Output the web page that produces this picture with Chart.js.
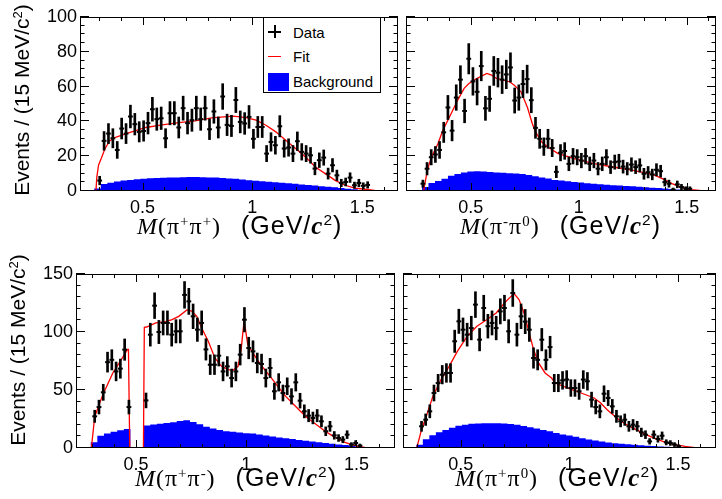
<!DOCTYPE html>
<html>
<head>
<meta charset="utf-8">
<title>Invariant mass fits</title>
<script src="https://cdn.jsdelivr.net/npm/chart.js@4.4.1/dist/chart.umd.min.js"></script>
<style>
  body { margin: 0; background: #fff; }
  #page { position: relative; width: 722px; height: 499px; overflow: hidden; background: #fff; }
  canvas { position: absolute; }
  .xt { position: absolute; font: 24px "Liberation Sans", Arial, sans-serif; line-height: 24px; white-space: nowrap; color: #000; }
  .xt .s { font-family: "Liberation Serif", "Times New Roman", serif; letter-spacing: 1px; }
  .xt .u { font-size: 25px; letter-spacing: 1px; margin-left: 20px; }
  .xt sup, .yt sup { font-size: 62%; vertical-align: 0; position: relative; top: -0.55em; }
  .yt { position: absolute; font: 21px "Liberation Sans", Arial, sans-serif; line-height: 21px; white-space: nowrap; color: #000;
        transform: translate(-50%, -50%) rotate(-90deg); }
  #legend { position: absolute; left: 263px; top: 17px; width: 118px; height: 76px; box-sizing: border-box;
            border: 1px solid #000; background: #fff; }
  #legend .mk { position: absolute; display: block; }
  #legend .lt { position: absolute; left: 29px; transform: translateY(-50%); font: 15px "Liberation Sans", Arial, sans-serif; line-height: 15px; }
</style>
</head>
<body>
<div id="page">
  <canvas id="tl" width="404" height="250" style="left:0;top:0"></canvas>
  <canvas id="tr" width="322" height="250" style="left:400px;top:0"></canvas>
  <canvas id="bl" width="401" height="249" style="left:0;top:250px"></canvas>
  <canvas id="br" width="325" height="249" style="left:397px;top:250px"></canvas>

  <div class="yt" style="left:23px;top:100px">Events / (15 MeV/c<sup>2</sup>)</div>
  <div class="yt" style="left:19px;top:350px">Events / (15 MeV/c<sup>2</sup>)</div>

  <div class="xt" style="left:137px;top:213px"><span class="s"><i>M</i>(π<sup>+</sup>π<sup>+</sup>)</span><span class="u">(GeV/<b class="s"><i>c</i></b><sup>2</sup>)</span></div>
  <div class="xt" style="left:460px;top:213px"><span class="s"><i>M</i>(π<sup>-</sup>π<sup>0</sup>)</span><span class="u">(GeV/<b class="s"><i>c</i></b><sup>2</sup>)</span></div>
  <div class="xt" style="left:135px;top:465px"><span class="s"><i>M</i>(π<sup>+</sup>π<sup>-</sup>)</span><span class="u">(GeV/<b class="s"><i>c</i></b><sup>2</sup>)</span></div>
  <div class="xt" style="left:455px;top:465px"><span class="s"><i>M</i>(π<sup>+</sup>π<sup>0</sup>)</span><span class="u">(GeV/<b class="s"><i>c</i></b><sup>2</sup>)</span></div>

  <div id="legend">
    <span class="mk" style="left:4px;top:12.5px;width:13px;height:2px;background:#000"></span>
    <span class="mk" style="left:9.5px;top:7px;width:2px;height:13px;background:#000"></span>
    <span class="lt" style="top:13.7px">Data</span>
    <span class="mk" style="left:4px;top:37.5px;width:13px;height:1.3px;background:#f00"></span>
    <span class="lt" style="top:38px">Fit</span>
    <span class="mk" style="left:4px;top:55px;width:21px;height:18px;background:#00f"></span>
    <span class="lt" style="top:63px">Background</span>
  </div>
</div>

<script>
  // Axis ticks
  const xTicks = [0.5, 1, 1.5];
  const xMinor = [0.3, 0.4, 0.6, 0.7, 0.8, 0.9, 1.1, 1.2, 1.3, 1.4, 1.6];
  const topYTicks = [0, 20, 40, 60, 80, 100];
  const topYMinor = [5, 10, 15, 25, 30, 35, 45, 50, 55, 65, 70, 75, 85, 90, 95];
  const botYTicks = [0, 50, 100, 150];
  const botYMinor = [10, 20, 30, 40, 60, 70, 80, 90, 110, 120, 130, 140];

  // M(pi+ pi+) : data counts per bin, first bin centre and bin width
  const tlStart = 0.305, tlStep = 0.02;
  const tlCounts = [6, 28.8, 33, 30.3, 23.6, 35.9, 33, 42.8, 38.4, 34, 34.5, 39, 47, 41.3, 41.8, 30.3,
    44.7, 44.7, 36.5, 47.6, 39, 40.7, 47.6, 41.3, 47.6, 35.5, 45.7, 36.5, 54.3, 38, 37.4, 52.3,
    39.7, 38.8, 42.6, 30, 36.8, 36.8, 21.5, 28.2, 26.3, 37.2, 24.4, 25, 21.5, 28.6, 22.5, 21.5,
    20.5, 12.9, 17.7, 19.2, 10, 14.8, 9, 4.6, 5.2, 7.7, 3.3, 4.6, 3, 3.5];
  const tlFit = [[0.25, 0], [0.288, 0], [0.292, 8], [0.3, 15], [0.313, 19], [0.328, 24], [0.35, 28.8],
    [0.38, 31], [0.44, 33.6], [0.515, 36.5], [0.59, 38], [0.665, 39.3], [0.74, 40.3], [0.815, 42],
    [0.912, 43], [0.972, 42.2], [1.017, 40.7], [1.062, 37.8], [1.107, 34], [1.152, 29.2], [1.197, 24.4],
    [1.242, 19.6], [1.287, 13.8], [1.332, 10], [1.377, 6.1], [1.422, 3.3], [1.467, 1.7], [1.512, 1],
    [1.557, 0.4], [1.6, 0], [1.67, 0]];
  const tlBg = [[0.265, 0], [0.295, 1.5], [0.325, 4], [0.355, 4.8], [0.385, 5.5], [0.415, 6], [0.445, 6.3],
    [0.475, 6.7], [0.505, 7], [0.535, 7.3], [0.565, 7.5], [0.595, 7.6], [0.625, 7.7], [0.655, 7.8],
    [0.685, 7.9], [0.715, 8], [0.745, 8], [0.775, 7.9], [0.805, 7.8], [0.835, 7.7], [0.865, 7.5],
    [0.895, 7.2], [0.925, 7], [0.955, 6.6], [0.985, 6.2], [1.015, 5.9], [1.045, 5.6], [1.075, 5.3],
    [1.105, 5], [1.135, 4.7], [1.165, 4.4], [1.195, 4.1], [1.225, 3.8], [1.255, 3.5], [1.285, 3.1],
    [1.315, 2.8], [1.345, 2.5], [1.375, 2.1], [1.405, 1.7], [1.435, 1.3], [1.465, 1], [1.495, 0.6],
    [1.525, 0.4], [1.555, 0]];

  // M(pi- pi0)
  const trStart = 0.279, trStep = 0.0193;
  const trCounts = [4.2, 12.8, 19.4, 21, 23.6, 33.7, 48, 34.7, 53.7, 64, 46, 76, 63, 57, 71.8, 47.5,
    53, 69, 68, 64, 67, 71, 52, 53.7, 61.5, 64.3, 52.2, 36.3, 30, 25.5, 30, 24.7, 11, 22, 23, 15.6,
    20, 19.4, 17.5, 20, 15.6, 17.5, 12.8, 15.6, 19.4, 13.7, 16.6, 17, 14, 12.8, 15.2, 13.7, 14.7,
    9.9, 10.8, 9.5, 12.2, 11.4, 5.1, 4.2, 0.8, 3.8, 2.3, 1.3, 1.3];
  const trFit = [[0.25, 0], [0.282, 0], [0.297, 10], [0.304, 13.8], [0.319, 19.6], [0.349, 27.3],
    [0.372, 35], [0.41, 44.5], [0.44, 52.2], [0.47, 59], [0.492, 61.8], [0.53, 64.7], [0.575, 67.6],
    [0.597, 66.6], [0.62, 64.7], [0.65, 63.7], [0.68, 62.8], [0.702, 60.8], [0.733, 57], [0.763, 48],
    [0.785, 38.8], [0.8, 34], [0.83, 28], [0.86, 25], [0.905, 21.5], [0.98, 18.6], [1.07, 15.7],
    [1.16, 13.8], [1.252, 11.9], [1.342, 9.6], [1.387, 7.1], [1.432, 4.2], [1.477, 1.9], [1.522, 0.8],
    [1.567, 0.2], [1.61, 0], [1.64, 0]];
  const trBg = [[0.26, 0], [0.29, 2.3], [0.32, 4.6], [0.35, 5.8], [0.38, 7], [0.41, 8.8], [0.44, 9.8],
    [0.47, 10.6], [0.5, 11.2], [0.53, 11.4], [0.56, 11.2], [0.59, 10.9], [0.62, 10.7], [0.65, 10.5],
    [0.68, 10.2], [0.71, 10], [0.74, 9.7], [0.77, 9.2], [0.8, 8.5], [0.83, 7.8], [0.86, 7.2], [0.89, 6.3],
    [0.92, 6], [0.95, 5.6], [0.98, 5.2], [1.01, 4.9], [1.04, 4.5], [1.07, 4.2], [1.1, 3.9], [1.13, 3.6],
    [1.16, 3.3], [1.19, 3.1], [1.22, 2.9], [1.25, 2.7], [1.28, 2.4], [1.31, 2.2], [1.34, 1.9],
    [1.37, 1.7], [1.4, 1.5], [1.43, 1.2], [1.46, 0.8], [1.49, 0.4], [1.52, 0]];

  // M(pi+ pi-) with the K0S window removed
  const blStart = 0.313, blStep = 0.0194;
  const blCounts = [27.3, 35.3, 48, 74, 76, 66, 68.4, 84.8, 35.3, null, null, null, 41, 97.7, 122.7,
    100, 107.8, 107.8, 97.7, 100.6, 100.6, 132, 126.4, 113.5, 102, 107.8, 85, 71.8, 71.8, 79.6, 66,
    70.4, 60.3, 66, 80.5, 110.6, 86.2, 83.3, 73.3, 72.4, 60.3, 69, 48.9, 56.6, 47.4, 53.2, 44.5, 56.6,
    40.8, 31.6, 27.9, 25.9, 27.9, 23, 14.4, 18.7, 10.9, 8.6, 7.2, 11.5, 2.9, 4.3, 2];
  const blFit = [[0.25, 0], [0.298, 0], [0.313, 27], [0.35, 46], [0.395, 64.7], [0.433, 76], [0.462, 85],
    [0.466, 85], [0.472, 0], [0.534, 0], [0.538, 104], [0.548, 104.3], [0.59, 107.8], [0.634, 109],
    [0.664, 110.6], [0.694, 113.5], [0.731, 119], [0.753, 118], [0.776, 113.5], [0.798, 103.4],
    [0.828, 92], [0.858, 77.6], [0.888, 70.4], [0.918, 67.5], [0.94, 67], [0.963, 70.4], [0.977, 84.8],
    [0.99, 109], [0.997, 102], [1.007, 89], [1.03, 82], [1.06, 73.3], [1.09, 66], [1.12, 59],
    [1.149, 51.7], [1.179, 44.5], [1.209, 38.8], [1.239, 33], [1.269, 27.3], [1.298, 23], [1.328, 18.7],
    [1.358, 14.4], [1.388, 10.9], [1.418, 7.8], [1.448, 4.9], [1.478, 2.9], [1.508, 1.4], [1.537, 0.6],
    [1.582, 0], [1.68, 0]];
  const blBg = [[0.28, 0], [0.31, 5], [0.34, 10.5], [0.37, 12.5], [0.4, 14], [0.43, 15.2], [0.46, 16.4],
    [0.49, 0], [0.52, 0], [0.55, 19.3], [0.58, 20.3], [0.61, 21], [0.64, 21.6], [0.67, 22.1],
    [0.7, 23.3], [0.73, 23.9], [0.76, 22.5], [0.79, 20.5], [0.82, 18.3], [0.85, 16.8], [0.88, 15.5],
    [0.91, 14.5], [0.94, 14], [0.97, 13.3], [1, 12.8], [1.03, 12.4], [1.06, 11.6], [1.09, 10.8],
    [1.12, 10], [1.15, 9], [1.18, 8.3], [1.21, 7.8], [1.24, 7], [1.27, 6.3], [1.3, 5.7], [1.33, 5],
    [1.36, 4.3], [1.39, 3.7], [1.42, 3.1], [1.45, 2.5], [1.48, 2], [1.51, 1.4], [1.54, 0.9], [1.57, 0]];

  // M(pi+ pi0)
  const brStart = 0.319, brStep = 0.0191;
  const brCounts = [18.7, 24.4, 31.6, 47.4, 56, 63.2, 64.7, 64.7, 92, 109.2, 102, 97.7, 103.4, 123.6,
    93.4, 120.7, 105, 107.8, 103.4, 117.8, 120.7, 100.6, 133.6, 97.7, 113.5, 109, 102, 77.6, 76, 93.4,
    76, 87, 56, 56, 58.3, 59, 51.7, 51.7, 48.9, 59, 57.5, 41.7, 35.3, 31.6, 46.8, 43.1, 35.9, 27.3, 23,
    24.4, 18.7, 20.1, 18.7, 13.5, 11.5, 5.7, 11.5, 7.8, 10.6, 4.9, 4.3, 2.9, 1.5];
  const brFit = [[0.25, 0], [0.297, 0], [0.319, 15.8], [0.341, 27.3], [0.371, 44.5], [0.409, 59],
    [0.446, 70.4], [0.484, 83.3], [0.529, 96.3], [0.574, 105], [0.619, 110.6], [0.663, 116.4],
    [0.701, 125], [0.731, 130.7], [0.746, 132.8], [0.768, 127.9], [0.791, 116.4], [0.813, 100.6],
    [0.835, 84.8], [0.858, 73.3], [0.888, 64.7], [0.918, 60.3], [0.934, 56], [0.994, 51.7],
    [1.054, 47.4], [1.114, 43.1], [1.144, 38.8], [1.174, 33], [1.218, 25.9], [1.263, 20.1],
    [1.308, 15.8], [1.353, 11.5], [1.398, 7.8], [1.443, 4.9], [1.488, 2.9], [1.533, 1.4], [1.578, 0.3],
    [1.62, 0], [1.68, 0]];
  const brBg = [[0.28, 0], [0.31, 2.9], [0.34, 7.5], [0.37, 10.9], [0.4, 13.5], [0.43, 15.5], [0.46, 17.4],
    [0.49, 19.1], [0.52, 20], [0.55, 20.8], [0.58, 21.1], [0.61, 21.3], [0.64, 21.3], [0.67, 21.3],
    [0.7, 21.1], [0.73, 20.6], [0.76, 20], [0.79, 19], [0.82, 17.9], [0.85, 16.8], [0.88, 15.5],
    [0.91, 14.5], [0.94, 12.9], [0.97, 11.7], [1, 10.7], [1.03, 9.6], [1.06, 8.4], [1.09, 7.4],
    [1.12, 6.5], [1.15, 5.6], [1.18, 4.8], [1.21, 4.2], [1.24, 3.6], [1.27, 3.2], [1.3, 2.8], [1.33, 2.4],
    [1.36, 2], [1.39, 1.7], [1.42, 1.3], [1.45, 1], [1.48, 0.8], [1.51, 0.4], [1.54, 0]];

  const toXY = pairs => pairs.map(p => ({ x: p[0], y: p[1] }));

  // Draws the frame and the inward ticks on all four sides, like ROOT does
  const frameTicks = {
    id: 'frameTicks',
    afterDatasetsDraw(chart, args, opts) {
      const { ctx, chartArea: a, scales: { x, y } } = chart;
      ctx.save();
      ctx.strokeStyle = '#000';
      ctx.lineWidth = 1;
      ctx.beginPath();
      const xTick = (v, len) => {
        if (v < x.min || v > x.max) return;
        const px = Math.round(x.getPixelForValue(v)) + 0.5;
        ctx.moveTo(px, a.bottom); ctx.lineTo(px, a.bottom - len);
        ctx.moveTo(px, a.top); ctx.lineTo(px, a.top + len);
      };
      const yTick = (v, len) => {
        const py = Math.round(y.getPixelForValue(v)) - 0.5;
        ctx.moveTo(a.left, py); ctx.lineTo(a.left + len, py);
        ctx.moveTo(a.right, py); ctx.lineTo(a.right - len, py);
      };
      xTicks.forEach(v => xTick(v, 8));
      xMinor.forEach(v => xTick(v, 4));
      opts.yMajor.forEach(v => yTick(v, 9));
      opts.yMinor.forEach(v => yTick(v, 4.5));
      ctx.stroke();
      ctx.strokeRect(a.left + 0.5, a.top + 0.5, a.right - a.left - 1, a.bottom - a.top - 1);
      ctx.restore();
    }
  };

  function makePanel(id, p) {
    const points = p.counts.map((v, i) => ({ x: p.start + i * p.step, y: v }));
    const errors = points.filter(pt => pt.y !== null)
      .map(pt => ({ x: pt.x, y: [pt.y - Math.sqrt(pt.y), pt.y + Math.sqrt(pt.y)] }));
    const font = { family: '"Liberation Sans", Arial, sans-serif', size: 18 };

    return new Chart(document.getElementById(id), {
      type: 'scatter',
      data: {
        datasets: [
          { type: 'line', data: toXY(p.bg), stepped: 'middle', fill: 'origin', backgroundColor: '#0000ff',
            borderWidth: 0, pointRadius: 0, order: 3 },
          { type: 'line', data: toXY(p.fit), borderColor: '#ff0000', borderWidth: 1.3, pointRadius: 0,
            fill: false, order: 2 },
          { type: 'bar', data: errors, backgroundColor: '#000', barThickness: 2, grouped: false, order: 1 },
          { type: 'scatter', data: points, pointStyle: 'line', pointRadius: 2.4, borderColor: '#000',
            borderWidth: 2, order: 0 }
        ]
      },
      options: {
        responsive: false,
        animation: false,
        layout: { padding: p.padding },
        plugins: {
          legend: { display: false },
          tooltip: { enabled: false },
          frameTicks: { yMajor: p.yTicks, yMinor: p.yMinor }
        },
        scales: {
          x: {
            type: 'linear', min: p.xMin, max: p.xMax, offset: false,
            grid: { display: false, drawTicks: false }, border: { display: false },
            afterBuildTicks: s => { s.ticks = xTicks.map(v => ({ value: v })); },
            afterFit: s => { s.height = p.xHeight; },
            ticks: { font, color: '#000', padding: 6, maxRotation: 0, autoSkip: false,
                     callback: v => String(v) }
          },
          y: {
            type: 'linear', min: 0, max: p.yMax,
            grid: { display: false, drawTicks: false }, border: { display: false },
            afterBuildTicks: s => { s.ticks = p.yTicks.map(v => ({ value: v })); },
            afterFit: s => { s.width = p.yWidth; },
            ticks: { display: p.yLabels, font, color: '#000', padding: 3 }
          }
        }
      },
      plugins: [frameTicks]
    });
  }

  makePanel('tl', { counts: tlCounts, start: tlStart, step: tlStep, fit: tlFit, bg: tlBg,
    xMin: 0.2154, xMax: 1.6632, yMax: 100, yTicks: topYTicks, yMinor: topYMinor, yLabels: true,
    yWidth: 80, xHeight: 59, padding: { top: 17, right: 2, left: 0, bottom: 0 } });
  makePanel('tr', { counts: trCounts, start: trStart, step: trStep, fit: trFit, bg: trBg,
    xMin: 0.2009, xMax: 1.6353, yMax: 100, yTicks: topYTicks, yMinor: topYMinor, yLabels: false,
    yWidth: 0, xHeight: 59, padding: { top: 17, right: 2, left: 2, bottom: 0 } });
  makePanel('bl', { counts: blCounts, start: blStart, step: blStep, fit: blFit, bg: blBg,
    xMin: 0.2282, xMax: 1.6747, yMax: 150, yTicks: botYTicks, yMinor: botYMinor, yLabels: true,
    yWidth: 76, xHeight: 51, padding: { top: 24, right: 2, left: 0, bottom: 0 } });
  makePanel('br', { counts: brCounts, start: brStart, step: brStep, fit: brFit, bg: brBg,
    xMin: 0.2337, xMax: 1.6751, yMax: 150, yTicks: botYTicks, yMinor: botYMinor, yLabels: false,
    yWidth: 0, xHeight: 51, padding: { top: 24, right: 2, left: 2, bottom: 0 } });
</script>
</body>
</html>
